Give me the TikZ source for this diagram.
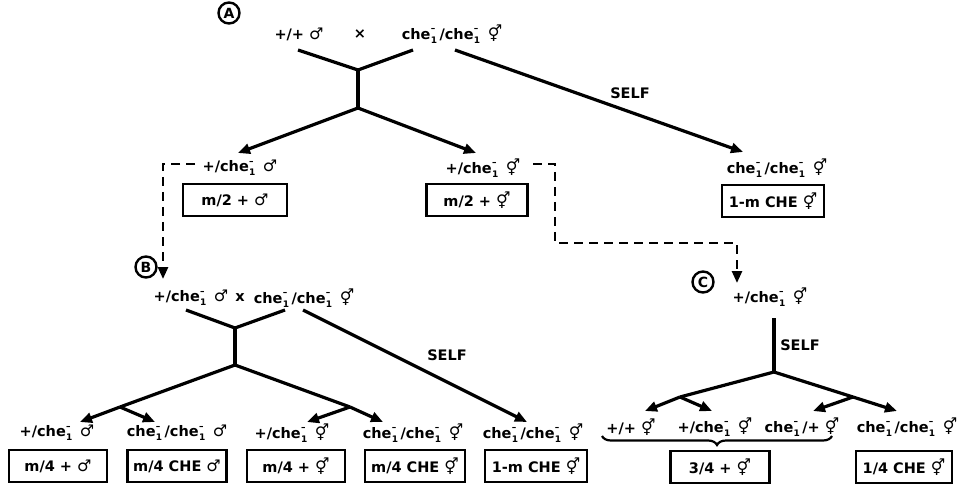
\documentclass[tikz,border=0pt]{standalone}
\usepackage{fontspec}
\setmainfont{DejaVu Sans}
\newfontfamily\symf{DejaVu Sans}
\usetikzlibrary{arrows.meta,decorations.pathreplacing,calc}
\newcommand\mS{{\symf\bfseries\fontsize{16}{16}\selectfont ♂}}
\newcommand\hS{{\symf\bfseries\fontsize{16}{16}\selectfont ⚥}}
\newcommand\cheOne{che\kern0.3pt\rlap{\raisebox{0.95ex}{\fontsize{9}{9}\selectfont\bfseries –}}\raisebox{-0.55ex}{\fontsize{9}{9}\selectfont\bfseries 1}\kern2.5pt}
\tikzset{
  every node/.style={font=\fontsize{14.5}{15}\selectfont\bfseries, inner sep=1pt},
  boxn/.style={draw, line width=2.2pt, minimum height=32pt, inner sep=0pt},
  ln/.style={line width=3.2pt},
  arr/.style={ln, -{Triangle[length=12pt,width=10pt]}},
  dsh/.style={line width=2.6pt, dash pattern=on 9pt off 6pt, -{Triangle[length=12pt,width=10pt]}},
  circ/.style={circle, draw, line width=2.4pt, minimum size=21pt, inner sep=0pt, font=\fontsize{14}{14}\selectfont\bfseries},
}
\begin{document}
\begin{tikzpicture}[x=1pt,y=-1pt]
\useasboundingbox (0,0) rectangle (962,484);
% ---- A ----
\node[circ] (cA) at (229,13) {A};
\node (tA1) at (299,34) {+/+ \mS};
\node (tAx) at (360,34) {×};
\node (tA2) at (452,34) {\cheOne/\cheOne\ \hS};
\coordinate (pA1) at (298,50);
\coordinate (pA2) at (413,50);
\coordinate (pA3) at (455,50);
\coordinate (jA) at (358,70);
\coordinate (jA2) at (358,108);
\draw[ln] (pA1) -- (jA) -- (pA2);
\draw[ln] (jA) -- (jA2);
\node (sA) at (630,93) {SELF};
% level 2
\node (n2L) at (240,168) {+/\cheOne\ \mS};
\node[boxn, minimum width=104pt] (b2L) at (235,200) {m/2 + \mS};
\node (n2M) at (483,168) {+/\cheOne\ \hS};
\node[boxn, minimum width=101pt] (b2M) at (477,200) {m/2 + \hS};
\node (n2R) at (777,168) {\cheOne/\cheOne\ \hS};
\node[boxn, minimum width=102pt] (b2R) at (773,201) {1-m CHE \hS};
\coordinate (tL) at (238,153);
\coordinate (tM) at (476,153);
\coordinate (tR) at (743,152);
\draw[arr] (jA2) -- (tL);
\draw[arr] (jA2) -- (tM);
\draw[arr] (pA3) -- (tR);
% dashed links
\coordinate (dL0) at (195,164);
\coordinate (dL) at (163,279);
\draw[dsh] (dL0) -| (dL);
\coordinate (dM0) at (533,164);
\coordinate (dM1) at (555,243);
\coordinate (dC) at (737,283);
\draw[dsh] (dM0) -| (dM1) -| (dC);
% ---- B ----
\node[circ] (cB) at (146,267) {B};
\node (tB1) at (191,298) {+/\cheOne\ \mS};
\node (tBx) at (240,298) {x};
\node (tB2) at (304,298) {\cheOne/\cheOne\ \hS};
\coordinate (pB1) at (186,310);
\coordinate (pB2) at (285,310);
\coordinate (pB3) at (303,310);
\coordinate (jB) at (235,328);
\coordinate (jB2) at (235,365);
\draw[ln] (pB1) -- (jB) -- (pB2);
\draw[ln] (jB) -- (jB2);
\node (sB) at (447,355) {SELF};
\coordinate (jBL) at (120,407);
\coordinate (jBR) at (350,407);
\draw[ln] (jBL) -- (jB2) -- (jBR);
\node (nB1) at (57,433) {+/\cheOne\ \mS};
\node (nB2) at (177,433) {\cheOne/\cheOne\ \mS};
\node (nB3) at (292,433) {+/\cheOne\ \hS};
\node (nB4) at (413,433) {\cheOne/\cheOne\ \hS};
\node (nB5) at (533,433) {\cheOne/\cheOne\ \hS};
\coordinate (aB1) at (80,422);
\coordinate (aB2) at (155,422);
\coordinate (aB3) at (307,422);
\coordinate (aB4) at (383,422);
\coordinate (aB5) at (527,422);
\draw[arr] (jBL) -- (aB1);
\draw[arr] (jBL) -- (aB2);
\draw[arr] (jBR) -- (aB3);
\draw[arr] (jBR) -- (aB4);
\draw[arr] (pB3) -- (aB5);
\node[boxn, minimum width=98pt] (bB1) at (58,466) {m/4 + \mS};
\node[boxn, minimum width=99pt] (bB2) at (177,466) {m/4 CHE \mS};
\node[boxn, minimum width=98pt] (bB3) at (296,466) {m/4 + \hS};
\node[boxn, minimum width=100pt] (bB4) at (415,466) {m/4 CHE \hS};
\node[boxn, minimum width=102pt] (bB5) at (536,466) {1-m CHE \hS};
% ---- C ----
\node[circ] (cC) at (703,282) {C};
\node (tC) at (770,297) {+/\cheOne\ \hS};
\coordinate (pC) at (774,318);
\coordinate (jC) at (774,372);
\draw[ln] (pC) -- (jC);
\node (sC) at (800,345) {SELF};
\coordinate (jCL) at (680,397);
\coordinate (jCR) at (853,397);
\draw[ln] (jCL) -- (jC) -- (jCR);
\node (nC1) at (631,427) {+/+ \hS};
\node (nC2) at (715,427) {+/\cheOne\ \hS};
\node (nC3) at (802,427) {\cheOne/+ \hS};
\node (nC4) at (907,427) {\cheOne/\cheOne\ \hS};
\coordinate (aC1) at (645,411);
\coordinate (aC2) at (712,411);
\coordinate (aC3) at (813,411);
\coordinate (aC4) at (897,411);
\draw[arr] (jCL) -- (aC1);
\draw[arr] (jCL) -- (aC2);
\draw[arr] (jCR) -- (aC3);
\draw[arr] (jCR) -- (aC4);
\coordinate (brR) at (832,436);
\coordinate (brL) at (602,436);
\draw[line width=2.2pt, decorate, decoration={brace, amplitude=9pt}] (brR) -- (brL);
\node[boxn, minimum width=99pt] (bC1) at (720,467) {3/4 + \hS};
\node[boxn, minimum width=96pt] (bC2) at (904,467) {1/4 CHE \hS};
\end{tikzpicture}
\end{document}
